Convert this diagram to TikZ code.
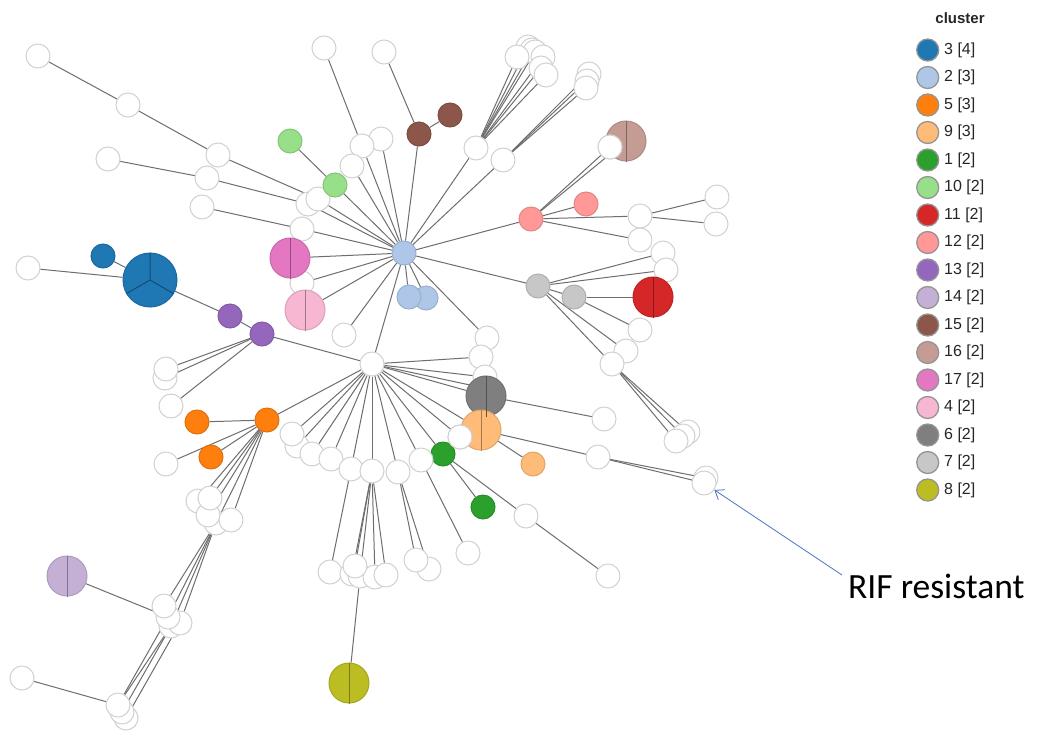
\documentclass[tikz,border=0pt]{standalone}
\usepackage{fontspec}
\setmainfont{Liberation Sans}
\newfontfamily\calib{Carlito}
\usetikzlibrary{arrows.meta}
\pgfdeclarelayer{bg}
\pgfsetlayers{bg,main}
\definecolor{c3}{HTML}{1F77B4}
\definecolor{c2}{HTML}{AEC7E8}
\definecolor{c5}{HTML}{FF7F0E}
\definecolor{c9}{HTML}{FFBB78}
\definecolor{c1}{HTML}{2CA02C}
\definecolor{c10}{HTML}{98DF8A}
\definecolor{c11}{HTML}{D62728}
\definecolor{c12}{HTML}{FF9896}
\definecolor{c13}{HTML}{9467BD}
\definecolor{c14}{HTML}{C5B0D5}
\definecolor{c15}{HTML}{8C564B}
\definecolor{c16}{HTML}{C49C94}
\definecolor{c17}{HTML}{E377C2}
\definecolor{c4}{HTML}{F7B6D2}
\definecolor{c6}{HTML}{7F7F7F}
\definecolor{c7}{HTML}{C7C7C7}
\definecolor{c8}{HTML}{BCBD22}
\definecolor{arrowblue}{HTML}{4472C4}
\tikzset{
  nd/.style={circle, inner sep=0pt, minimum size=24pt, line width=1pt},
  wn/.style={nd, fill=white, draw=black!18},
  cn/.style={nd, fill=#1, draw=#1!88!black},
  bn/.style={cn=#1, minimum size=40pt},
  edge/.style={draw=black!57, line width=1pt},
  divider/.style={draw=#1!65!black, line width=1pt},
  legdot/.style={circle, inner sep=0pt, minimum size=22pt, line width=1.3pt, fill=#1, draw=black!42},
  leglab/.style={anchor=west, inner sep=0pt, font=\fontsize{16}{18}\selectfont, text=black!85},
}
\begin{document}
\begin{tikzpicture}[x=1pt,y=-1pt]
\useasboundingbox (0,0) rectangle (1043,753);

% ---- nodes ----
\node[wn] (a1) at (38,56) {};
\node[wn] (a2) at (128,105) {};
\node[wn] (a3) at (218,155) {};
\node[wn] (b1) at (108,159) {};
\node[wn] (b2) at (207,178) {};
\node[wn] (c1) at (202,207) {};
\node[wn] (c2) at (302,229) {};
\node[cn=c10] (g10a) at (290,141) {};
\node[wn] (w308) at (308,204) {};
\node[wn] (w318) at (318,199) {};
\node[cn=c10] (g10b) at (335,185) {};
\node[wn] (w302) at (302,283) {};
\node[bn=c17] (p17) at (290,258) {};
\node[bn=c4] (p4) at (305,310) {};
\node[wn] (w344) at (344,335) {};
\node[cn=c2] (lb2b) at (426,298) {};
\node[cn=c2] (lb2a) at (409,297) {};
\node[wn] (d1) at (324,48) {};
\node[wn] (w381) at (381,139) {};
\node[wn] (d2) at (362,146) {};
\node[wn] (w352) at (352,166) {};
\node[wn] (e1) at (384,52) {};
\node[cn=c15] (br15b) at (450,115) {};
\node[cn=c15] (br15a) at (419,134) {};
\node[wn] (f1) at (528,47) {};
\node[wn] (f2) at (532,50) {};
\node[wn] (f3) at (535,52) {};
\node[wn] (f4) at (543,57) {};
\node[wn] (f5) at (541,68) {};
\node[wn] (f6) at (546,75) {};
\node[wn] (f7) at (517,57) {};
\node[wn] (fh) at (476,148) {};
\node[wn] (g1) at (589,74) {};
\node[wn] (g2) at (587,81) {};
\node[wn] (g3) at (586,88) {};
\node[wn] (gh) at (503,160) {};
\node[bn=c16] (br16) at (626,141) {};
\node[wn] (w610) at (610,147) {};
\node[cn=c12] (s12b) at (586,204) {};
\node[cn=c12] (s12a) at (531,219) {};
\node[wn] (w717) at (717,197) {};
\node[wn] (w716) at (716,224) {};
\node[wn] (w640a) at (640,216) {};
\node[wn] (w640b) at (640,240) {};
\node[wn] (w663) at (663,253) {};
\node[wn] (w666) at (666,270) {};
\node[bn=c11] (r11) at (653,297) {};
\node[cn=c7] (gr7b) at (574,297) {};
\node[cn=c7] (gr7a) at (538,286) {};
\node[wn] (w640c) at (640,330) {};
\node[wn] (w626) at (626,351) {};
\node[wn] (w612) at (612,364) {};
\node[wn] (w688) at (688,432) {};
\node[wn] (w683) at (683,436) {};
\node[wn] (w676) at (676,441) {};
\node[wn] (w487) at (487,338) {};
\node[wn] (w481) at (481,357) {};
\node[wn] (w485) at (485,377) {};
\node[wn] (hid1) at (484,388) {};
\node[bn=c6] (gy6) at (486,396) {};
\node[wn] (w604) at (604,419) {};
\node[bn=c9] (o9) at (481,430) {};
\node[wn] (w460) at (460,437) {};
\node[cn=c9] (o9b) at (533,464) {};
\node[wn] (w598) at (598,457) {};
\node[wn] (rif1) at (706,478) {};
\node[wn] (rif2) at (704,483) {};
\node[cn=c1] (g1a) at (443,454) {};
\node[cn=c1] (g1b) at (483,507) {};
\node[wn] (w526) at (526,516) {};
\node[wn] (w608) at (608,576) {};
\node[cn=c2] (h1) at (404,253) {};
\node[wn] (h2) at (372,364) {};
% blue cluster / purple
\node[wn] (w28) at (28,268) {};
\node[cn=c3] (b3s) at (103,256) {};
\node[cn=c3, minimum size=54pt] (b3) at (150,280) {};
\node[cn=c13] (pu13a) at (230,316) {};
\node[cn=c13] (pu13b) at (262,334) {};
\node[wn] (w166b) at (165,378) {};
\node[wn] (w166a) at (166,369) {};
\node[wn] (w171) at (171,406) {};
% orange 5
\node[cn=c5] (o5b) at (197,422) {};
\node[cn=c5] (o5c) at (211,457) {};
\node[wn] (w166) at (166,464) {};
\node[cn=c5] (o5a) at (267,420) {};
\node[wn] (l1) at (198,501) {};
\node[wn] (l4) at (216,523) {};
\node[wn] (l3) at (208,515) {};
\node[wn] (l2) at (210,498) {};
\node[wn] (l5) at (231,520) {};
\node[wn] (m3) at (171,626) {};
\node[wn] (m4) at (180,623) {};
\node[wn] (m2) at (168,617) {};
\node[wn] (m1) at (164,606) {};
\node[wn] (q3) at (126,718) {};
\node[wn] (q2) at (122,712) {};
\node[wn] (q1) at (118,705) {};
\node[bn=c14] (li14) at (67,576) {};
\node[wn] (w22) at (22,678) {};
% fan below h2
\node[wn] (f297) at (297,446) {};
\node[wn] (f292) at (292,434) {};
\node[wn] (f312) at (312,454) {};
\node[wn] (f331) at (331,459) {};
\node[wn] (f351) at (351,469) {};
\node[wn] (f372) at (372,471) {};
\node[wn] (f398) at (398,472) {};
\node[wn] (f421) at (421,460) {};
\node[wn] (w330) at (330,572) {};
\node[wn] (k2) at (352,574) {};
\node[wn] (k3) at (360,576) {};
\node[wn] (k4) at (375,577) {};
\node[wn] (k1) at (355,566) {};
\node[wn] (k5) at (386,575) {};
\node[bn=c8] (ol8) at (349,683) {};
\node[wn] (w429) at (429,569) {};
\node[wn] (w416) at (416,560) {};
\node[wn] (w468) at (468,553) {};

% dividers in multi-member nodes
\foreach \n/\c in {p17/c17, p4/c4, br16/c16, r11/c11, gy6/c6, o9/c9, li14/c14, ol8/c8}
  \draw[divider=\c] (\n.north) -- (\n.south);
\draw[divider=c3] (b3.center) -- (b3.90) (b3.center) -- (b3.210) (b3.center) -- (b3.330);
% white nodes drawn on top of coloured ones
\node[wn] at (w610) {};
\node[wn] at (w460) {};

% ---- edges ----
\begin{pgfonlayer}{bg}
\fill[white] (0,0) rectangle (1043,753);
\foreach \u/\v in {a1/a2, a2/a3, a3/w318, b1/b2, b2/w308, w308/h1, w318/h1,
  c1/c2, c2/h1, g10a/g10b, g10b/h1, p17/h1, w302/h1, p4/h1, w344/h1,
  lb2a/h1, lb2b/h1, d1/d2, d2/h1, w381/h1, w352/h1, e1/br15a, br15a/br15b,
  br15a/h1, fh/h1, fh/f1, fh/f2, fh/f3, fh/f4, fh/f5, fh/f6, fh/f7,
  gh/h1, gh/g1, gh/g2, gh/g3, h1/s12a, s12a/w610, s12a/br16, s12a/s12b,
  s12a/w640a, s12a/w640b, w640a/w717, w640a/w716, h1/gr7a, gr7a/w663,
  gr7a/w666, gr7a/gr7b, gr7b/r11, gr7b/w640c, gr7a/w626, gr7a/w612,
  w612/w688, w612/w683, w612/w676, h1/w487, h1/h2,
  h2/pu13b, h2/o5a, h2/w481, h2/w485, h2/hid1, h2/gy6, h2/o9, h2/w460, h2/g1a,
  h2/f292, h2/f297, h2/f312, h2/f331, h2/f351, h2/f372, h2/f398, h2/f421,
  gy6/w604, o9/o9b, o9/w598, w598/rif1, w598/rif2, g1a/g1b, g1a/w526, w526/w608,
  f351/w330, f372/k1, f372/k2, f372/k3, f372/k4, f372/k5, k3/ol8,
  f398/w416, f398/w429, f421/w468,
  b3s/b3, w28/b3, b3/pu13a, pu13a/pu13b, pu13b/w166a, pu13b/w166b, pu13b/w171,
  o5a/o5b, o5a/o5c, o5a/w166, o5a/l1, o5a/l2, o5a/l3, o5a/l4, o5a/l5,
  l4/m1, l4/m2, l4/m3, l4/m4, m2/q1, m3/q2, m3/q1, m4/q3, li14/m2, w22/q1}
  \draw[edge] (\u) -- (\v);
\end{pgfonlayer}

% ---- annotation ----
\coordinate (arrstart) at (842,575);
\node[anchor=base west, inner sep=0pt, font=\calib\fontsize{35.5}{40}\selectfont] (riftext) at (848,598) {RIF resistant};
\draw[arrowblue, line width=0.8pt, -{Straight Barb[length=8pt,width=12pt]}] (arrstart) -- (rif2);

% ---- legend ----
\node[font=\bfseries\fontsize{15}{18}\selectfont, text=black!85, inner sep=0pt] (legtitle) at (960,18) {cluster};
\foreach \c/\t [count=\i from 0] in {c3/{3 [4]}, c2/{2 [3]}, c5/{5 [3]}, c9/{9 [3]}, c1/{1 [2]},
  c10/{10 [2]}, c11/{11 [2]}, c12/{12 [2]}, c13/{13 [2]}, c14/{14 [2]}, c15/{15 [2]},
  c16/{16 [2]}, c17/{17 [2]}, c4/{4 [2]}, c6/{6 [2]}, c7/{7 [2]}, c8/{8 [2]}}
{
  \node[legdot=\c] (ld\i) at (927.7,{50+27.5*\i}) {};
  \node[leglab] (ll\i) at (944,{50+27.5*\i}) {\t};
}
\end{tikzpicture}
\end{document}
